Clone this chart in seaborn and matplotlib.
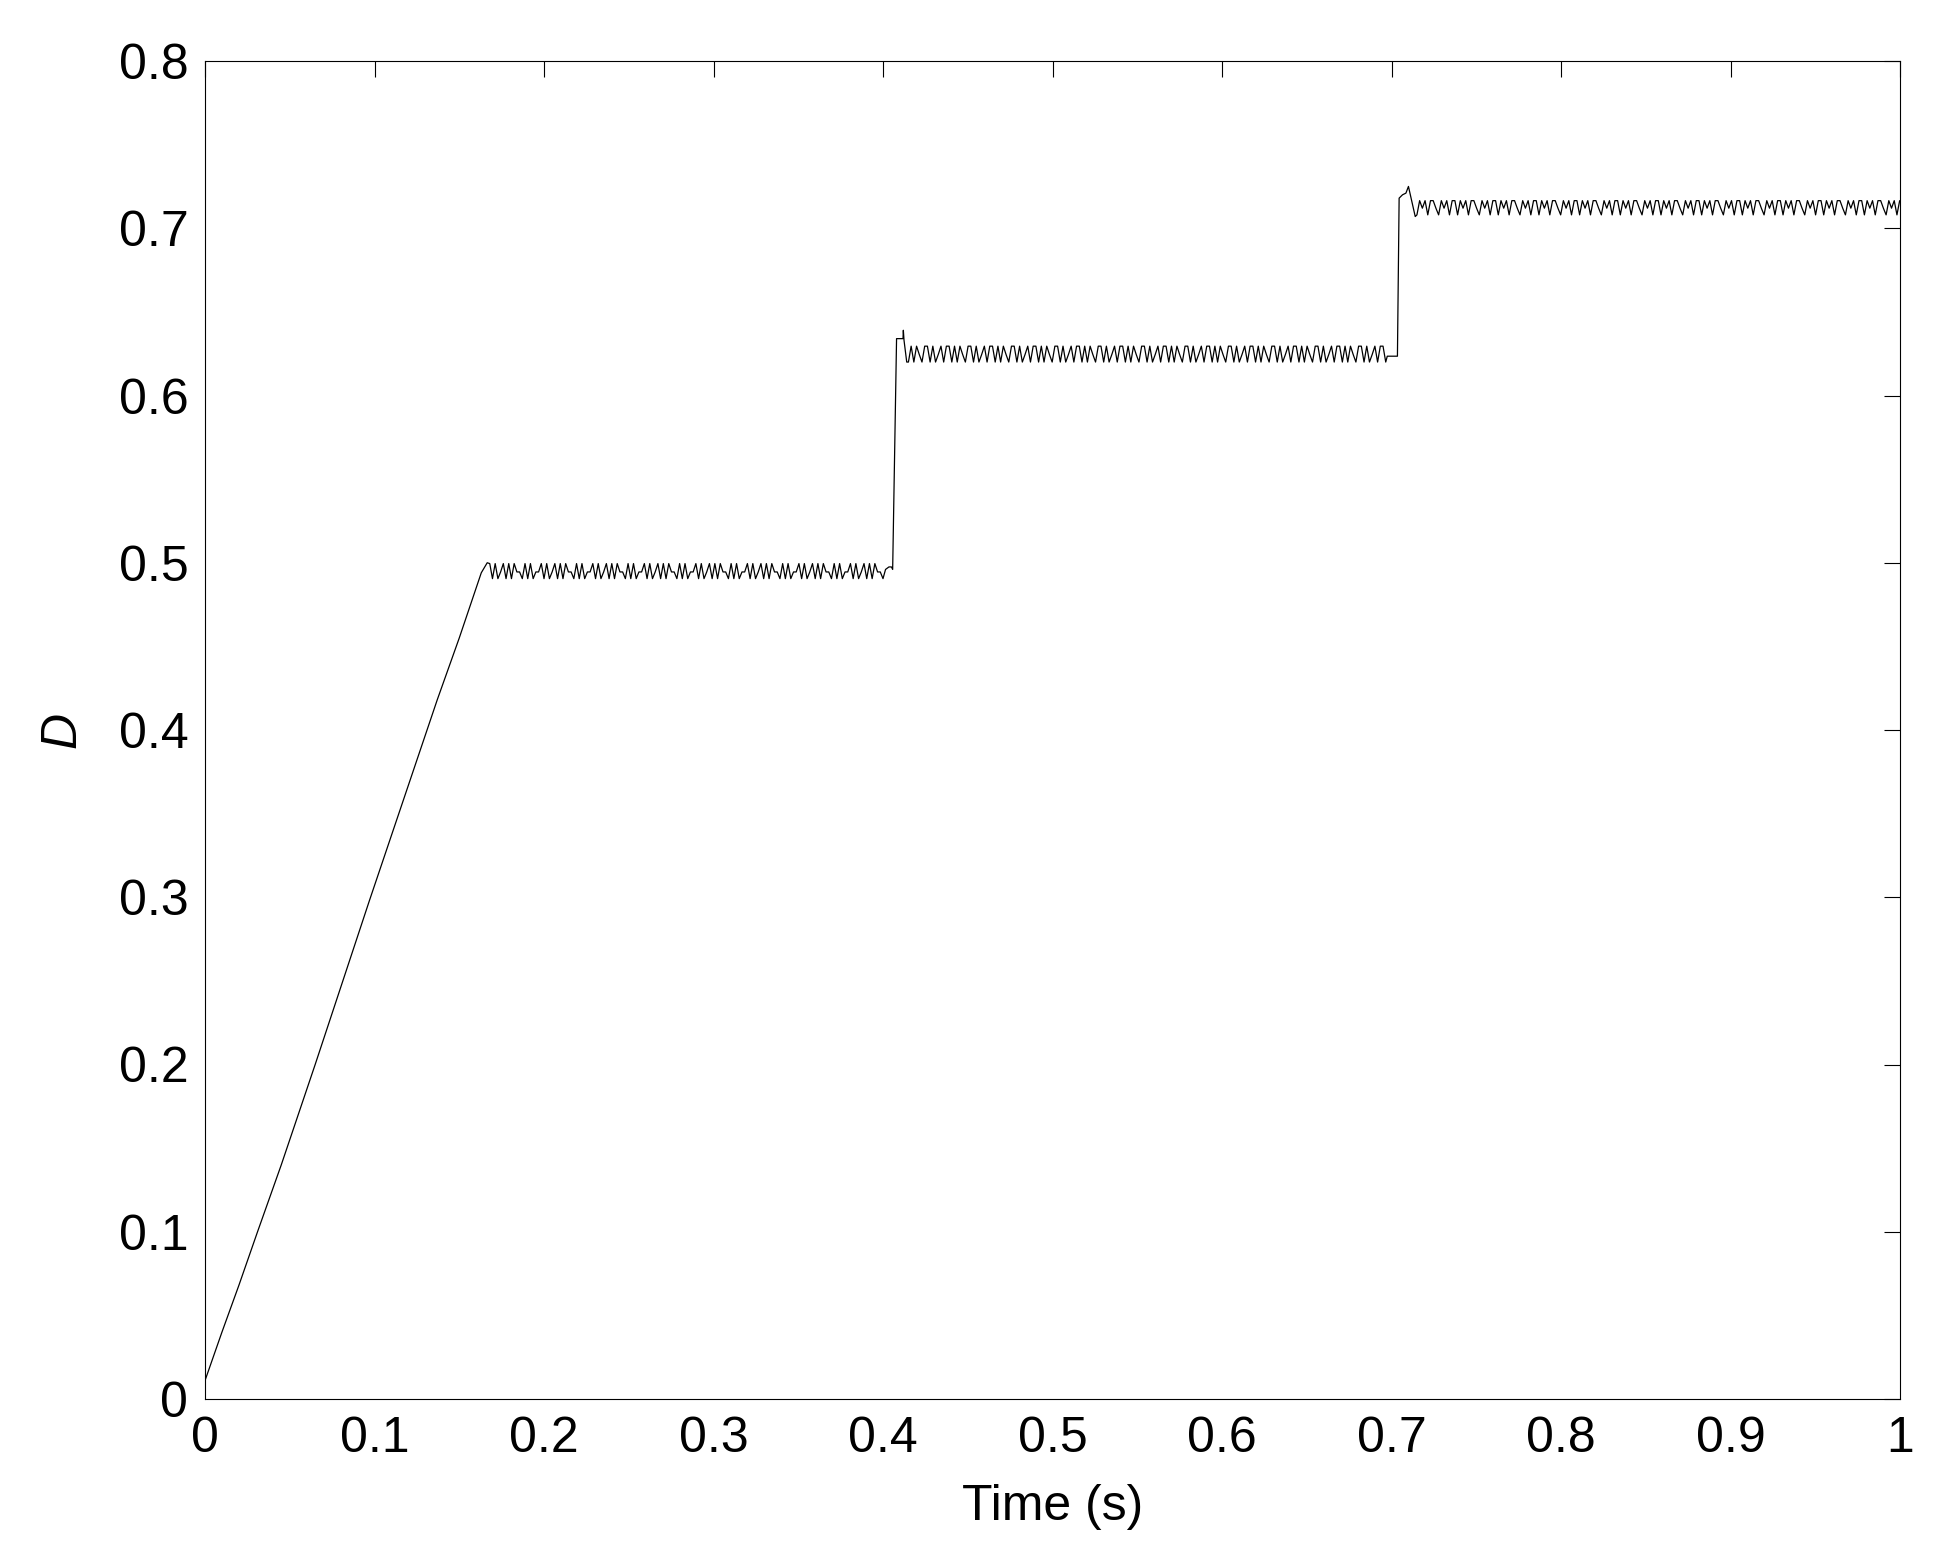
import numpy as np
import pandas as pd
import seaborn as sns
import matplotlib
matplotlib.use("Agg")
import matplotlib.pyplot as plt

# ramp of the duty cycle
ramp_t = [0.0, 0.010, 0.020, 0.031, 0.045, 0.058, 0.065, 0.080, 0.097, 0.113, 0.129, 0.137, 0.150, 0.163, 0.1665]
ramp_d = [0.011, 0.040, 0.068, 0.100, 0.140, 0.179, 0.200, 0.246, 0.298, 0.346, 0.394, 0.418, 0.455, 0.494, 0.500]

# ripple: three levels per plateau (low, mid, high) and the level sequence seen in the picture
dt = 0.0016
p1_span = [0.1680, 0.4010]
p1_levels = [0.4905, 0.4945, 0.4995]
p1_pattern = [2, 0, 2, 0, 1, 2, 0, 2, 0, 2, 1, 1, 0, 2, 0, 2, 0, 1, 1]

p2_span = [0.4150, 0.6970]
p2_levels = [0.6200, 0.6245, 0.6295]
p2_pattern = [0, 2, 0, 2, 1, 0, 2, 2, 0, 2, 0, 1, 2, 0, 2, 2]

p3_span = [0.7150, 1.0000]
p3_levels = [0.7080, 0.7120, 0.7165]
p3_pattern = [0, 2, 1, 2, 0, 2, 2, 1, 0, 2, 1, 2, 0, 2, 2]

# the jumps between plateaus
jump1_t = [0.4015, 0.4035, 0.4050, 0.4057, 0.4080, 0.4118, 0.4120, 0.4124, 0.4140, 0.4150]
jump1_d = [0.4960, 0.4975, 0.4975, 0.4960, 0.6340, 0.6340, 0.6390, 0.6330, 0.6200, 0.6200]
jump2_t = [0.6975, 0.7035, 0.7045, 0.7065, 0.7085, 0.7100, 0.7140, 0.7150]
jump2_d = [0.6235, 0.6235, 0.7180, 0.7200, 0.7210, 0.7250, 0.7070, 0.7080]

x_ticks = [0, 0.1, 0.2, 0.3, 0.4, 0.5, 0.6, 0.7, 0.8, 0.9, 1]
x_labels = ["0", "0.1", "0.2", "0.3", "0.4", "0.5", "0.6", "0.7", "0.8", "0.9", "1"]
y_ticks = [0, 0.1, 0.2, 0.3, 0.4, 0.5, 0.6, 0.7, 0.8]
y_labels = ["0", "0.1", "0.2", "0.3", "0.4", "0.5", "0.6", "0.7", "0.8"]


def plateau(span, levels, pattern):
    t = np.arange(span[0], span[1], dt)
    idx = np.resize(pattern, len(t))
    return list(t), [levels[i] for i in idx]


t_all, d_all = list(ramp_t), list(ramp_d)
for seg in [plateau(p1_span, p1_levels, p1_pattern), (jump1_t, jump1_d),
            plateau(p2_span, p2_levels, p2_pattern), (jump2_t, jump2_d),
            plateau(p3_span, p3_levels, p3_pattern)]:
    t_all += list(seg[0])
    d_all += list(seg[1])

df = pd.DataFrame({"t": t_all, "D": d_all})

sns.set_style("white")
plt.rcParams["font.family"] = ["Liberation Sans", "DejaVu Sans"]
plt.rcParams["text.color"] = "black"
plt.rcParams["axes.labelcolor"] = "black"

fig = plt.figure(figsize=(19.39, 15.57), dpi=100)
ax = fig.add_axes([205 / 1939, 1 - 1399 / 1557, 1695 / 1939, 1338 / 1557])
sns.lineplot(data=df, x="t", y="D", sort=False, estimator=None, color="black", linewidth=0.9, ax=ax)

ax.set_xlim(0, 1)
ax.set_ylim(0, 0.8)
ax.set_xticks(x_ticks)
ax.set_xticklabels(x_labels)
ax.set_yticks(y_ticks)
ax.set_yticklabels(y_labels)
ax.tick_params(direction="in", length=11.5, width=0.8, labelsize=36, pad=12,
               top=True, right=True, colors="black")
for s in ax.spines.values():
    s.set_visible(True)
    s.set_color("black")
    s.set_linewidth(0.8)
ax.set_xlabel("Time (s)", fontsize=36, labelpad=16, color="black")
ax.set_ylabel("D", fontsize=36, style="italic", labelpad=24, color="black")

fig.savefig("out.png", dpi=100, facecolor="white")
